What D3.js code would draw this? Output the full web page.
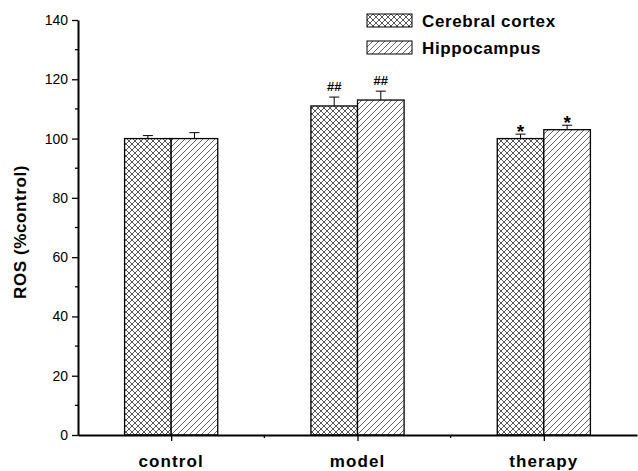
<!DOCTYPE html>
<html>
<head>
<meta charset="utf-8">
<script src="https://cdn.jsdelivr.net/npm/d3@7"></script>
<style>
  body { margin: 0; background: #fff; }
  svg { display: block; font-family: "Liberation Sans", Arial, sans-serif; }
</style>
</head>
<body>
<div id="chart"></div>
<script>
// chart values
const groups = ["control", "model", "therapy"];
const seriesNames = ["Cerebral cortex", "Hippocampus"];
const cortex = [100, 111, 100];
const hippocampus = [100, 113, 103];
const cortexErr = [1, 3, 1.5];
const hippoErr = [2, 3, 1.5];
const marks = [["", ""], ["##", "##"], ["*", "*"]];
const yTicks = [0, 20, 40, 60, 80, 100, 120, 140];

const width = 638, height = 471;
const margin = { top: 20, right: 1, bottom: 36, left: 78 };

const svg = d3.select("#chart").append("svg")
    .attr("width", width)
    .attr("height", height);

// hatch patterns
const defs = svg.append("defs");
let cross = defs.append("pattern")
    .attr("id", "cross")
    .attr("patternUnits", "userSpaceOnUse")
    .attr("width", 6).attr("height", 6);
cross.append("rect").attr("width", 6).attr("height", 6).attr("fill", "#fff");
cross.append("path").attr("d", "M0,0 L6,6 M-1,5 L1,7 M5,-1 L7,1").attr("stroke", "#444").attr("stroke-width", 0.9);
cross.append("path").attr("d", "M0,6 L6,0 M-1,1 L1,-1 M5,7 L7,5").attr("stroke", "#444").attr("stroke-width", 0.9);

let diag = defs.append("pattern")
    .attr("id", "diag")
    .attr("patternUnits", "userSpaceOnUse")
    .attr("width", 6).attr("height", 6);
diag.append("rect").attr("width", 6).attr("height", 6).attr("fill", "#fff");
diag.append("path").attr("d", "M0,6 L6,0 M-1,1 L1,-1 M5,7 L7,5").attr("stroke", "#555").attr("stroke-width", 0.9);

const fills = ["url(#cross)", "url(#diag)"];

// scales
const x = d3.scaleLinear()
    .domain([0.5, 3.5])
    .range([margin.left, width - margin.right]);
const y = d3.scaleLinear()
    .domain([0, 140])
    .range([height - margin.bottom, margin.top]);

const barW = x(1.25) - x(1);

// axes
const yAxis = d3.axisLeft(y).tickValues(yTicks).tickSize(6).tickSizeOuter(0);
const gy = svg.append("g")
    .attr("transform", "translate(" + margin.left + ",0)")
    .call(yAxis);
gy.select(".domain").attr("stroke", "#000").attr("stroke-width", 2);
gy.selectAll(".tick line").attr("stroke", "#000").attr("stroke-width", 1.3);
gy.selectAll(".tick text").attr("font-size", 14).attr("fill", "#000").attr("dx", "-1");

// minor y ticks
svg.append("g").selectAll("line")
    .data(d3.range(10, 140, 20))
    .join("line")
    .attr("x1", margin.left - 3).attr("x2", margin.left)
    .attr("y1", d => y(d)).attr("y2", d => y(d))
    .attr("stroke", "#000").attr("stroke-width", 1.3);

// bars
const barData = [];
groups.forEach((g, i) => {
    barData.push({ g: i + 1, s: 0, v: cortex[i], e: cortexErr[i], m: marks[i][0] });
    barData.push({ g: i + 1, s: 1, v: hippocampus[i], e: hippoErr[i], m: marks[i][1] });
});

const bars = svg.append("g");

// error bars (upper only)
bars.selectAll(".err")
    .data(barData)
    .join("path")
    .attr("class", "err")
    .attr("d", d => {
        let cx = x(d.g) + (d.s === 0 ? -barW / 2 : barW / 2);
        return "M" + cx + "," + y(d.v) + "V" + y(d.v + d.e) +
            "M" + (cx - 5) + "," + y(d.v + d.e) + "H" + (cx + 5);
    })
    .attr("stroke", "#000").attr("stroke-width", 1).attr("fill", "none");

bars.selectAll(".bar")
    .data(barData)
    .join("rect")
    .attr("class", "bar")
    .attr("x", d => x(d.g) - (d.s === 0 ? barW : 0))
    .attr("y", d => y(d.v))
    .attr("width", barW)
    .attr("height", d => y(0) - y(d.v))
    .attr("fill", d => fills[d.s])
    .attr("stroke", "#000")
    .attr("stroke-width", 1.3);

// significance marks
bars.selectAll(".mark")
    .data(barData.filter(d => d.m))
    .join("text")
    .attr("class", "mark")
    .attr("x", d => x(d.g) + (d.s === 0 ? -barW / 2 : barW / 2))
    .attr("y", d => y(d.v + d.e) - (d.m === "*" ? -4 : 6))
    .attr("text-anchor", "middle")
    .attr("font-size", d => d.m === "*" ? 19 : 13)
    .attr("font-weight", "bold")
    .text(d => d.m);

// x axis
const xAxis = d3.axisBottom(x).tickValues([1, 2, 3]).tickSize(6).tickSizeOuter(0).tickFormat("");
const gx = svg.append("g")
    .attr("transform", "translate(0," + y(0) + ")")
    .call(xAxis);
gx.select(".domain").attr("stroke", "#000").attr("stroke-width", 2);
gx.selectAll(".tick line").attr("stroke", "#000").attr("stroke-width", 1.3);

svg.append("g").selectAll("line")
    .data([1.5, 2.5])
    .join("line")
    .attr("x1", d => x(d)).attr("x2", d => x(d))
    .attr("y1", y(0)).attr("y2", y(0) + 3)
    .attr("stroke", "#000").attr("stroke-width", 1.3);

svg.append("g").selectAll("text")
    .data(groups)
    .join("text")
    .attr("x", (d, i) => x(i + 1))
    .attr("y", y(0) + 32)
    .attr("text-anchor", "middle")
    .attr("font-size", 17)
    .attr("font-weight", "bold")
    .attr("letter-spacing", 1.1)
    .text(d => d);

// y label
svg.append("text")
    .attr("transform", "translate(26," + 232 + ") rotate(-90)")
    .attr("text-anchor", "middle")
    .attr("font-size", 17)
    .attr("font-weight", "bold")
    .attr("letter-spacing", 0.6)
    .text("ROS (%control)");

// legend
const legend = svg.append("g").attr("transform", "translate(367,14)");
seriesNames.forEach((name, i) => {
    let row = legend.append("g").attr("transform", "translate(0," + (i * 27) + ")");
    row.append("rect")
        .attr("width", 45).attr("height", 13)
        .attr("fill", fills[i]).attr("stroke", "#000").attr("stroke-width", 1);
    row.append("text")
        .attr("x", 55).attr("y", 13)
        .attr("font-size", 17)
        .attr("font-weight", "bold")
        .attr("letter-spacing", 0.6)
        .text(name);
});
</script>
</body>
</html>
